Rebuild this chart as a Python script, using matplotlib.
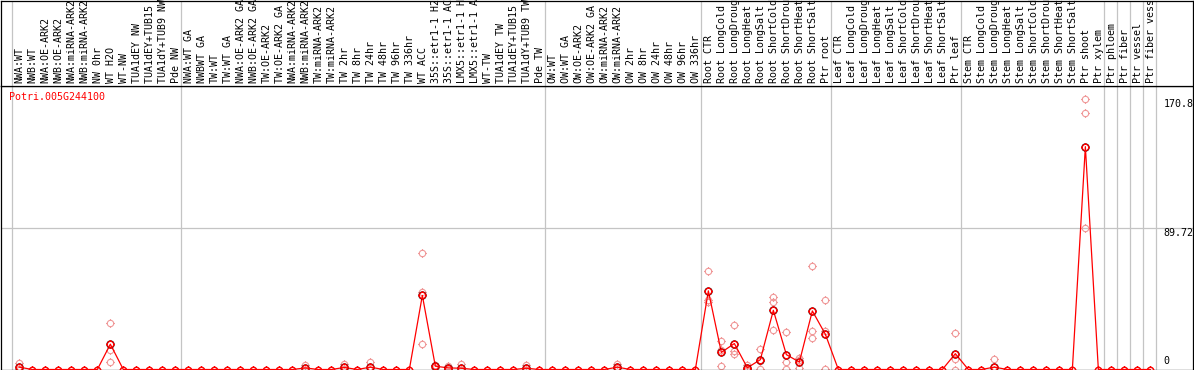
import numpy as np
import matplotlib
matplotlib.use("Agg")
import matplotlib.pyplot as plt
from matplotlib.path import Path
import matplotlib.transforms as mtransforms

# ---------------- data ----------------
gene = "Potri.005G244100"

labels = [
    "NWA:WT", "NWB:WT", "NWA:OE-ARK2", "NWB:OE-ARK2", "NWA:miRNA-ARK2", "NWB:miRNA-ARK2",
    "NW 0hr", "WT H2O", "WT-NW", "TUA1dEY NW", "TUA1dEY+TUB15 NW", "TUA1dY+TUB9 NW", "Pde NW",
    "NWA:WT GA", "NWBWT GA", "TW:WT", "TW:WT GA", "NWA:OE-ARK2 GA", "NWB:OE-ARK2 GA",
    "TW:OE-ARK2", "TW:OE-ARK2 GA", "NWA:miRNA-ARK2", "NWB:miRNA-ARK2", "TW:miRNA-ARK2",
    "TW:miRNA-ARK2", "TW 2hr", "TW 8hr", "TW 24hr", "TW 48hr", "TW 96hr", "TW 336hr",
    "WT ACC", "35S::etr1-1 H2O", "35S::etr1-1 ACC", "LMX5::etr1-1 H2O", "LMX5::etr1-1 ACC",
    "WT-TW", "TUA1dEY TW", "TUA1dEY+TUB15 TW", "TUA1dY+TUB9 TW", "Pde TW",
    "OW:WT", "OW:WT GA", "OW:OE-ARK2", "OW:OE-ARK2 GA", "OW:miRNA-ARK2", "OW:miRNA-ARK2",
    "OW 2hr", "OW 8hr", "OW 24hr", "OW 48hr", "OW 96hr", "OW 336hr",
    "Root CTR", "Root LongCold", "Root LongDrought", "Root LongHeat", "Root LongSalt",
    "Root ShortCold", "Root ShortDrought", "Root ShortHeat", "Root ShortSalt", "Ptr root",
    "Leaf CTR", "Leaf LongCold", "Leaf LongDrought", "Leaf LongHeat", "Leaf LongSalt",
    "Leaf ShortCold", "Leaf ShortDrought", "Leaf ShortHeat", "Leaf ShortSalt", "Ptr leaf",
    "Stem CTR", "Stem LongCold", "Stem LongDrought", "Stem LongHeat", "Stem LongSalt",
    "Stem ShortCold", "Stem ShortDrought", "Stem ShortHeat", "Stem ShortSalt", "Ptr shoot",
    "Ptr xylem", "Ptr phloem", "Ptr fiber", "Ptr vessel", "Ptr fiber vessel",
]

group_sizes = [13, 28, 12, 10, 10, 11, 1, 1, 1, 1]

mean_values = [
    1.5, 0, 0, 0, 0, 0, 0, 16.0, 0, 0, 0, 0, 0,
    0, 0, 0, 0, 0, 0, 0, 0, 0, 1.0, 0, 0, 1.3, 0, 1.5, 0, 0, 0,
    46.8, 2.1, 1.0, 0.8, 0, 0, 0, 0, 0.8, 0,
    0, 0, 0, 0, 0, 1.5, 0, 0, 0, 0, 0, 0,
    49.7, 10.8, 16.4, 1.1, 6.2, 37.4, 9.4, 4.7, 37.0, 22.3,
    0, 0, 0, 0, 0, 0, 0, 0, 0, 10.0,
    0, 0, 1.5, 0, 0, 0, 0, 0, 0, 140.8,
    0, 0, 0, 0, 0,
]

rep_a = [
    4.3, 0, 0, 0, 0, 0, 0, 29.3, 0, 0, 0, 0, 0,
    0, 0, 0, 0, 0, 0, 0, 0, 0, 3.0, 0, 0, 3.4, 0, 4.7, 0, 0, 0,
    73.3, 3.0, 1.9, 3.6, 0, 0, 0, 0, 2.8, 0,
    0, 0, 0, 0, 0, 3.4, 0, 0, 0, 0, 0, 0,
    62.3, 17.9, 28.1, 3.0, 13.2, 45.5, 23.6, 7.2, 65.7, 43.8,
    0, 0, 0, 0, 0, 0, 0, 0, 0, 22.8,
    0, 0, 6.8, 0, 0, 0, 0, 0, 0, 170.8,
    0, 0, 0, 0, 0,
]

rep_b = [
    0.3, 0, 0, 0, 0, 0, 0, 12.5, 0, 0, 0, 0, 0,
    0, 0, 0, 0, 0, 0, 0, 0, 0, 0, 0, 0, 0.5, 0, 0, 0, 0, 0,
    49.1, 2.5, 1.0, 0, 0, 0, 0, 0, 0, 0,
    0, 0, 0, 0, 0, 1.0, 0, 0, 0, 0, 0, 0,
    43.9, 12.2, 11.5, 0.3, 5.2, 42.9, 4.9, 5.7, 24.4, 24.4,
    0, 0, 0, 0, 0, 0, 0, 0, 0, 6.4,
    0, 0, 0, 0, 0, 0, 0, 0, 0, 161.8,
    0, 0, 0, 0, 0,
]

rep_c = [
    0, 0, 0, 0, 0, 0, 0, 4.5, 0, 0, 0, 0, 0,
    0, 0, 0, 0, 0, 0, 0, 0, 0, 0, 0, 0, 0, 0, 0, 0, 0, 0,
    16.4, 0.8, 0.1, 0, 0, 0, 0, 0, 0, 0,
    0, 0, 0, 0, 0, 0, 0, 0, 0, 0, 0, 0,
    42.9, 2.3, 9.6, 0, 0.2, 24.9, 0.2, 1.2, 20.2, 0.2,
    0, 0, 0, 0, 0, 0, 0, 0, 0, 0,
    0, 0, 0, 0, 0, 0, 0, 0, 0, 89.1,
    0, 0, 0, 0, 0,
]

y_max = 179.44
y_mid = 89.72
y_top_label = 170.8

# ---------------- figure ----------------
W, H = 1194, 370
fig = plt.figure(figsize=(W / 100, H / 100), dpi=100)
fig.patch.set_facecolor("white")

def px_axes(left, top, right, bottom):
    return [left / W, 1 - bottom / H, (right - left) / W, (bottom - top) / H]

ax = fig.add_axes(px_axes(1, 85.5, 1193, 369.5))
hax = fig.add_axes(px_axes(1, 0.5, 1193, 85.5), sharex=ax)

n = len(labels)
x = np.arange(n)
ax.set_xlim(-1.41, 90.28)
ax.set_ylim(0, y_max)
hax.set_ylim(0, 1)

for a in (ax, hax):
    a.set_xticks([])
    a.set_yticks([])
    for s in a.spines.values():
        s.set_color("black")
        s.set_linewidth(0.9)
    a.set_facecolor("white")
plt.setp(hax.get_xticklabels(), visible=False)

grid_c = "#c4c4c4"
bounds = np.cumsum([0] + group_sizes) - 0.6
for b in bounds:
    ax.axvline(b, color=grid_c, lw=0.9, zorder=0)
    hax.axvline(b, color=grid_c, lw=0.9, zorder=0)
ax.axhline(y_mid, color=grid_c, lw=0.9, zorder=0)

# marker: circle with four small outward ticks
t = 1.35
circle = Path.unit_circle()
ticks = Path([(1, 0), (t, 0), (-1, 0), (-t, 0), (0, 1), (0, t), (0, -1), (0, -t)],
             [Path.MOVETO, Path.LINETO] * 4)
tick_circle = Path.make_compound_path(circle, ticks)

pink = "#f09a9a"
reps = np.array([rep_a, rep_b, rep_c])
for r in reps:
    ax.plot(x, r, linestyle="none", marker=tick_circle, markersize=6.2,
            markerfacecolor="none", markeredgecolor=pink, markeredgewidth=0.8, zorder=2)

mean = np.array(mean_values, dtype=float)
ax.plot(x, mean, color="#ff0000", lw=0.9, zorder=3)
ax.plot(x, np.ma.masked_where(mean <= 0, mean), linestyle="none", marker="o",
        markersize=5.2, markerfacecolor="none", markeredgecolor="#1a0000",
        markeredgewidth=0.8, zorder=4)
ax.plot(x, mean, linestyle="none", marker=tick_circle, markersize=6.2,
        markerfacecolor="none", markeredgecolor="#ff0000", markeredgewidth=0.9, zorder=5)

mono = "DejaVu Sans Mono"
fs = 7.2

# header labels
trans_h = mtransforms.blended_transform_factory(hax.transData, hax.transAxes)
for i, lab in enumerate(labels):
    hax.text(i + 0.02, 0.028, lab, rotation=90, ha="center", va="bottom",
             family=mono, fontsize=fs, color="black", transform=trans_h, clip_on=False)

# gene title
ax.text(0.007, 0.959, gene, transform=ax.transAxes, ha="left", va="center",
        family=mono, fontsize=fs, color="#ff0000")

# right-hand value labels
lab_x = 88.0
ax.text(lab_x, y_top_label, f"{y_top_label:g}", ha="left", va="top",
        family=mono, fontsize=fs, color="black")
ax.text(lab_x, y_mid, f"{y_mid:g}", ha="left", va="top",
        family=mono, fontsize=fs, color="black")
ax.annotate("0", (lab_x, 0), xytext=(0, 2.5), textcoords="offset points",
            ha="left", va="bottom", family=mono, fontsize=fs, color="black")

fig.savefig("out.png", dpi=100, facecolor="white")
